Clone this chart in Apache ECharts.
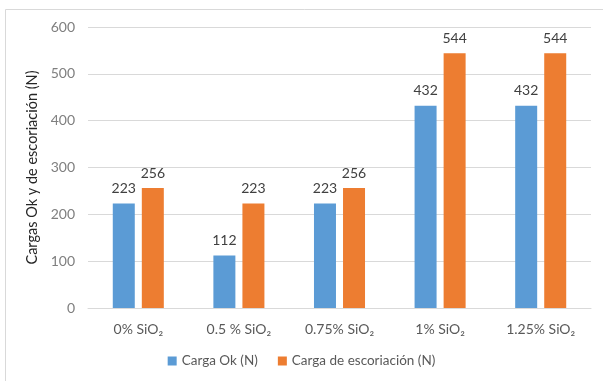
<!DOCTYPE html>
<html>
<head>
<meta charset="utf-8">
<script src="https://cdn.jsdelivr.net/npm/echarts@6/dist/echarts.min.js"></script>
<style>
  html, body { margin: 0; padding: 0; background: #ffffff; }
  #chart { width: 603px; height: 381px; }
</style>
</head>
<body>
<div id="chart"></div>
<script>
// Mixtures tested (silica content)
const categories = ['0% SiO₂', '0.5 % SiO₂', '0.75% SiO₂', '1% SiO₂', '1.25% SiO₂'];
// Loads in newtons
const cargaOk = [223, 112, 223, 432, 432];
const cargaEscoriacion = [256, 223, 256, 544, 544];
const seriesNames = ['Carga Ok (N)', 'Carga de escoriación (N)'];
const yTicks = { min: 0, max: 600, interval: 100 };
const yAxisTitle = 'Cargas Ok y de escoriación (N)';

const FONT = 'Lato, "Open Sans", sans-serif';
const chart = echarts.init(document.getElementById('chart'), null, { renderer: 'canvas' });

chart.setOption({
  backgroundColor: '#ffffff',
  animation: false,
  textStyle: { fontFamily: FONT },
  graphic: [{
    type: 'rect',
    shape: { x: 5.5, y: 9.5, width: 620, height: 400 },
    style: { fill: 'none', stroke: '#d9d9d9', lineWidth: 1 },
    silent: true
  }],
  grid: { left: 88, right: 12, top: 27, bottom: 73 },
  legend: {
    bottom: 8,
    left: 'center',
    itemWidth: 9,
    itemHeight: 9,
    itemGap: 20,
    icon: 'rect',
    textStyle: { color: '#595959', fontSize: 13.5, fontFamily: FONT },
    data: seriesNames
  },
  xAxis: {
    type: 'category',
    data: categories,
    axisLine: { lineStyle: { color: '#d9d9d9', width: 1 } },
    axisTick: { show: false },
    axisLabel: { color: '#595959', fontSize: 14, margin: 14, fontFamily: FONT }
  },
  yAxis: {
    type: 'value',
    min: yTicks.min,
    max: yTicks.max,
    interval: yTicks.interval,
    name: yAxisTitle,
    nameLocation: 'middle',
    nameGap: 46,
    nameTextStyle: { color: '#262626', fontSize: 14.5, fontFamily: FONT },
    axisLine: { show: false },
    axisTick: { show: false },
    axisLabel: { color: '#7f7f7f', fontSize: 14, margin: 13, fontFamily: FONT },
    splitLine: { lineStyle: { color: '#d9d9d9', width: 1 } }
  },
  series: [
    {
      name: seriesNames[0],
      type: 'bar',
      data: cargaOk,
      barWidth: 22,
      barGap: '32%',
      itemStyle: { color: '#5b9bd5' },
      label: { show: true, position: 'top', distance: 8, color: '#404040', fontSize: 14, fontFamily: FONT }
    },
    {
      name: seriesNames[1],
      type: 'bar',
      data: cargaEscoriacion,
      barWidth: 22,
      itemStyle: { color: '#ed7d31' },
      label: { show: true, position: 'top', distance: 8, color: '#404040', fontSize: 14, fontFamily: FONT }
    }
  ]
});
</script>
</body>
</html>
